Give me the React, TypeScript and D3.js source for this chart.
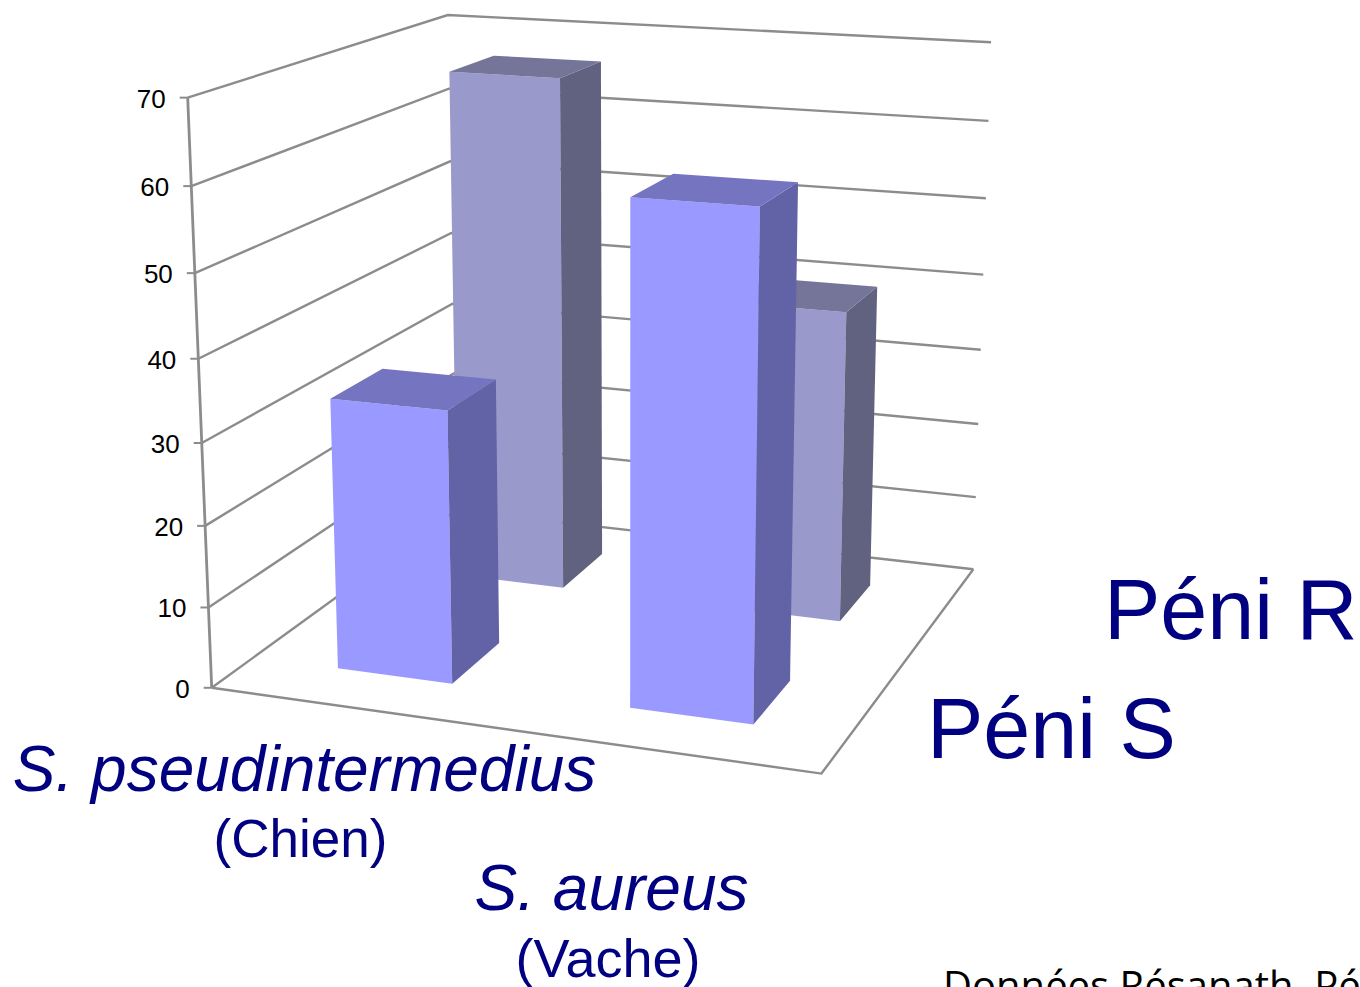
import React from "react";
import * as d3 from "d3";

const categories = ["S. pseudintermedius", "S. aureus"];
const categoryNotes = ["(Chien)", "(Vache)"];
const seriesNames = ["Péni S", "Péni R"];
const peniS = [33.5, 60];
const peniR = [66.6, 39.9];
const yTicks = [0, 10, 20, 30, 40, 50, 60, 70];

const W = 1360, H = 987;
// camera calibration: chart-box corners [x, value fraction, z] -> screen
const calib: [number, number, number, number, number][] = [
  [0, 0, 0, 209, 688],
  [1, 0, 0, 822, 773],
  [1, 0, 1, 972, 570],
  [0, 1, 0, 190, 98],
  [0, 1, 1, 445, 15],
  [1, 1, 1, 992, 42],
  [0, 0, 1, 459, 510],
];

function solve(A: number[][], b: number[]) {
  const n = b.length;
  const M = A.map((r, i) => [...r, b[i]]);
  for (let c = 0; c < n; c++) {
    let p = c;
    for (let r = c + 1; r < n; r++) if (Math.abs(M[r][c]) > Math.abs(M[p][c])) p = r;
    [M[c], M[p]] = [M[p], M[c]];
    for (let r = 0; r < n; r++) {
      if (r === c) continue;
      const f = M[r][c] / M[c][c];
      for (let k = c; k <= n; k++) M[r][k] -= f * M[c][k];
    }
  }
  return M.map((r, i) => r[n] / r[i]);
}

function fitCamera() {
  const rows: number[][] = [];
  const rhs: number[] = [];
  for (const [x, y, z, u, v] of calib) {
    rows.push([x, y, z, 1, 0, 0, 0, 0, -u * x, -u * y, -u * z]);
    rhs.push(u);
    rows.push([0, 0, 0, 0, x, y, z, 1, -v * x, -v * y, -v * z]);
    rhs.push(v);
  }
  const n = 11;
  const ata = d3.range(n).map((i) => d3.range(n).map((j) => d3.sum(rows, (r) => r[i] * r[j]) + (i === j ? 1e-6 : 0)));
  const atb = d3.range(n).map((i) => d3.sum(rows, (r, k) => r[i] * rhs[k]));
  return solve(ata, atb);
}
const cam = fitCamera();

const xScale = d3.scaleBand<string>().domain(categories).range([0, 1]).paddingInner(0.6).paddingOuter(0.3);
const zScale = d3.scaleBand<string>().domain(seriesNames).range([0, 1]).paddingInner(0.6).paddingOuter(0.3);
const yScale = d3.scaleLinear().domain([0, 70]).range([0, 1]);

function P(x: number, val: number, z: number): [number, number] {
  const y = yScale(val);
  const w = cam[8] * x + cam[9] * y + cam[10] * z + 1;
  return [
    (cam[0] * x + cam[1] * y + cam[2] * z + cam[3]) / w,
    (cam[4] * x + cam[5] * y + cam[6] * z + cam[7]) / w,
  ];
}

const poly = d3.line();
const GRID = "#8c8c8c";
const NAVY = "#000080";

const palette = [
  { front: "#9999FF", side: "#6262A6", top: "#7474C0" },
  { front: "#9999CC", side: "#616180", top: "#757599" },
];

function Bar({ cat, series, value }: { cat: string; series: number; value: number }) {
  const x0 = xScale(cat)!, x1 = x0 + xScale.bandwidth();
  const z0 = zScale(seriesNames[series])!, z1 = z0 + zScale.bandwidth();
  const c = palette[series];
  return (
    <g>
      <path d={poly([P(x0, 0, z0), P(x1, 0, z0), P(x1, value, z0), P(x0, value, z0)]) + "Z"} fill={c.front} />
      <path d={poly([P(x1, 0, z0), P(x1, 0, z1), P(x1, value, z1), P(x1, value, z0)]) + "Z"} fill={c.side} />
      <path d={poly([P(x0, value, z0), P(x1, value, z0), P(x1, value, z1), P(x0, value, z1)]) + "Z"} fill={c.top} />
    </g>
  );
}

export default function App() {
  const sans = "'Liberation Sans', Arial, sans-serif";
  return (
    <svg width={W} height={H} style={{ position: "fixed", left: 0, top: 0, display: "block", background: "#fff" }}>
      {/* walls */}
      {yTicks.map((t) => (
        <path key={t} d={poly([P(0, t, 0), P(0, t, 1), P(1, t, 1)])!} fill="none" stroke={GRID} strokeWidth={2.4} />
      ))}
      <path d={poly([P(0, 0, 0), P(1, 0, 0), P(1, 0, 1)])!} fill="none" stroke={GRID} strokeWidth={2.4} />
      <path d={poly([P(0, 0, 0), P(0, 70, 0)])!} fill="none" stroke={GRID} strokeWidth={2.8} />
      {yTicks.map((t) => {
        const [px, py] = P(0, t, 0);
        return (
          <g key={t}>
            <line x1={px - 8} x2={px} y1={py} y2={py} stroke={GRID} strokeWidth={2} />
            <text x={px - 22} y={py + 10} textAnchor="end" fontFamily={sans} fontSize={26} fill="#000">{t}</text>
          </g>
        );
      })}
      {/* bars, back row first */}
      {categories.map((c, i) => <Bar key={c} cat={c} series={1} value={peniR[i]} />)}
      {categories.map((c, i) => <Bar key={c} cat={c} series={0} value={peniS[i]} />)}
      {/* category labels */}
      <text x={304.5} y={791} textAnchor="middle" fontFamily={sans} fontStyle="italic" fontSize={64} fill={NAVY}>{categories[0]}</text>
      <text x={300.5} y={857} textAnchor="middle" fontFamily={sans} fontSize={53} fill={NAVY}>{categoryNotes[0]}</text>
      <text x={611.5} y={910} textAnchor="middle" fontFamily={sans} fontStyle="italic" fontSize={64} fill={NAVY}>{categories[1]}</text>
      <text x={608} y={977} textAnchor="middle" fontFamily={sans} fontSize={54} fill={NAVY}>{categoryNotes[1]}</text>
      {/* series labels */}
      <text x={927} y={758} fontFamily={sans} fontSize={84.5} fill={NAVY}>{seriesNames[0]}</text>
      <text x={1104} y={639} fontFamily={sans} fontSize={84.5} fill={NAVY}>{seriesNames[1]}</text>
      <text x={943} y={1000} fontFamily="'Open Sans', sans-serif" fontSize={40} fill="#000">Données Résanath, Péni</text>
    </svg>
  );
}
